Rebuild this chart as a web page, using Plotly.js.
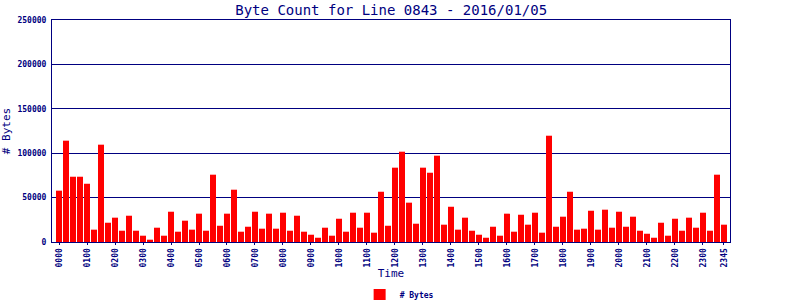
<!DOCTYPE html>
<html><head><meta charset="utf-8">
<script src="https://cdn.plot.ly/plotly-3.0.1.min.js"></script>
<style>html,body{margin:0;padding:0;background:#fff}#c{width:800px;height:300px}</style>
</head><body><div id="c"></div>
<script>
const times = [];
for (let h = 0; h < 24; h++) for (let m = 0; m < 60; m += 15) times.push(String(h).padStart(2,'0') + String(m).padStart(2,'0'));
const byteCounts = [
 57800,114100,73500,73500,65600,13900,109600,21700,27400,12700,29600,12700,7100,2600,16100,7100,
 34100,11600,24000,13900,31900,12700,75800,18300,31900,58900,11600,17200,34100,15000,31900,15000,
 33000,12700,29600,11600,8200,4800,16100,7100,26200,11600,33000,16100,33000,10500,56600,18300,
 83700,101700,44300,20600,83700,78000,97200,19500,39700,13900,27400,12700,8200,4800,17200,7100,
 31900,11600,30700,19500,33000,10500,119700,17200,28500,56600,13900,15000,35200,13900,36400,16100,
 34100,17200,28500,12700,9300,4800,21700,7100,26200,12700,27400,16100,33000,12700,75800,19500
];
const tickLabels = ['0000','0100','0200','0300','0400','0500','0600','0700','0800','0900','1000','1100','1200',
 '1300','1400','1500','1600','1700','1800','1900','2000','2100','2200','2300','2345'];
const tickIdx = tickLabels.map(t => times.indexOf(t));
const navy = '#000080';
const trace = {
  type: 'bar', x: times.map((_, i) => i), y: byteCounts, name: '# Bytes',
  width: 0.86, marker: {color: '#ff0000', line: {width: 0}},
  hoverinfo: 'skip'
};
const layout = {
  width: 800, height: 300,
  margin: {l: 52, r: 70, t: 20, b: 58, pad: 0, autoexpand: false},
  paper_bgcolor: '#fff', plot_bgcolor: '#fff',
  title: {text: 'Byte Count for Line 0843 - 2016/01/05', font: {family: 'DejaVu Sans Mono', size: 14, color: navy},
    x: 0.489, xanchor: 'center', yref: 'container', y: 0.965, yanchor: 'middle'},
  xaxis: {
    range: [-1, 95.86], tickmode: 'array', tickvals: tickIdx, ticktext: tickLabels,
    tickangle: -90, tickfont: {family: 'DejaVu Sans Mono', size: 8, color: navy, weight: 'bold'},
    showline: true, linecolor: navy, linewidth: 1, mirror: true, showgrid: false, zeroline: false,
    ticks: 'outside', ticklen: 2, tickcolor: navy,
    title: {text: 'Time', font: {family: 'DejaVu Sans Mono', size: 11, color: navy}, standoff: 14},
    automargin: false
  },
  yaxis: {
    range: [0, 250000], tickvals: [0,50000,100000,150000,200000,250000],
    ticktext: ['0','50000','100000','150000','200000','250000'],
    tickfont: {family: 'DejaVu Sans Mono', size: 8, color: navy, weight: 'bold'},
    showline: true, linecolor: navy, linewidth: 1, mirror: true,
    showgrid: true, gridcolor: navy, gridwidth: 1, zeroline: false, ticks: '', ticklabelstandoff: 3,
    title: {text: '# Bytes', font: {family: 'DejaVu Sans Mono', size: 11, color: navy}, standoff: 4},
    automargin: false
  },
  showlegend: true,
  legend: {orientation: 'h', x: 0.512, xanchor: 'center', yref: 'container', y: 0.017, yanchor: 'middle',
    font: {family: 'DejaVu Sans Mono', size: 8, color: navy, weight: 'bold'}, bgcolor: 'rgba(0,0,0,0)', itemwidth: 30}
};
Plotly.newPlot('c', [trace], layout, {staticPlot: true, displayModeBar: false});
</script></body></html>
